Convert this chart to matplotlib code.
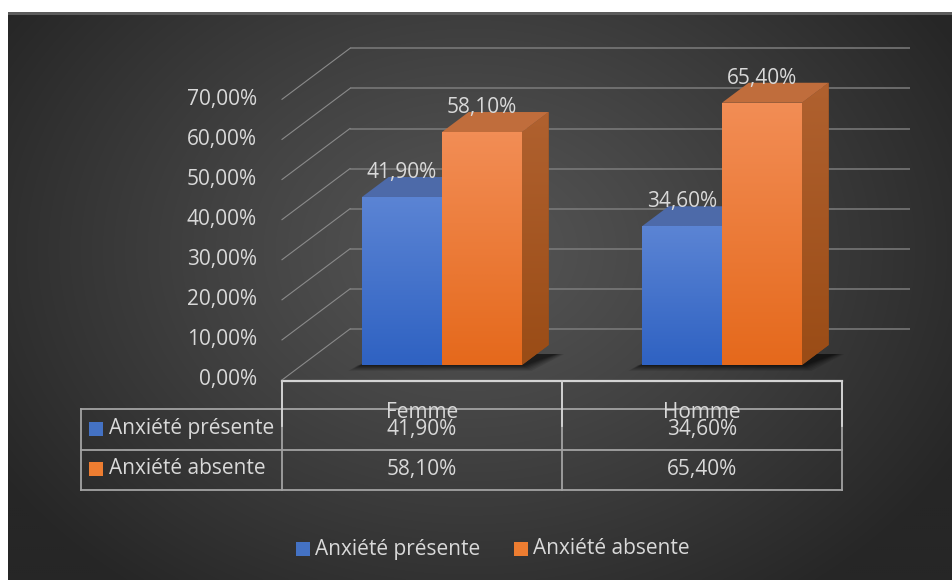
import numpy as np
import matplotlib
matplotlib.use("Agg")
import matplotlib.pyplot as plt
from matplotlib.patches import Polygon, Rectangle
from matplotlib.colors import LinearSegmentedColormap
from matplotlib.transforms import blended_transform_factory

# ---- data ----
categories = ["Femme", "Homme"]
series_names = ["Anxiété présente", "Anxiété absente"]
anxiete_presente = [41.9, 34.6]
anxiete_absente = [58.1, 65.4]
y_ticks = [0, 10, 20, 30, 40, 50, 60, 70]

series_values = [anxiete_presente, anxiete_absente]

# ---- style ----
FONT = "Open Sans"
FS = 15
TXT = "#d9d9d9"
front_top = ["#5b84d4", "#f28d55"]
front_bot = ["#2f62c2", "#e5691c"]
top_col = ["#4d6aa9", "#c06d3c"]
side_top = ["#3c5a9c", "#b0612f"]
side_bot = ["#2a4a8e", "#9a4c16"]
swatch = ["#4472c4", "#ed7d31"]

plt.rcParams["font.family"] = [FONT, "DejaVu Sans"]


def fr_pct(v):
    return f"{v:.2f}".replace(".", ",") + "%"


W, H = 952, 580
fig = plt.figure(figsize=(W / 100, H / 100), dpi=100, facecolor="white")

# background layer in pixel units
bg = fig.add_axes([0, 0, 1, 1])
bg.set_xlim(0, W)
bg.set_ylim(H, 0)
bg.axis("off")

yy, xx = np.mgrid[15:H:2, 8:W:2]
r = np.sqrt(((xx - 470) / 560.0) ** 2 + ((yy - 250) / 430.0) ** 2)
r = np.clip(r, 0, 1) ** 1.15
center_c = np.array([0x55, 0x55, 0x55]) / 255
edge_c = np.array([0x26, 0x26, 0x26]) / 255
img = center_c[None, None, :] * (1 - r[..., None]) + edge_c[None, None, :] * r[..., None]
bg.imshow(img, extent=[8, W, H, 15], aspect="auto", interpolation="bilinear", zorder=0)
bg.add_patch(Rectangle((8, 12), W - 8, 3, color="#5c5c5c", lw=0, zorder=1))
bg.set_xlim(0, W)
bg.set_ylim(H, 0)

# ---- chart axes: x in category units, y in percent (front plane) ----
PX0, PXC = 422.0, 280.0      # pixel of category 0 and pixels per category
PY0, PYU = 380.0, 4.01       # pixel of 0 % and pixels per percent
ax = fig.add_axes([0, 0, 1, 1])
ax.patch.set_alpha(0)
ax.axis("off")
XLIM = ((0 - PX0) / PXC, (W - PX0) / PXC)
YLIM = ((PY0 - H) / PYU, PY0 / PYU)

DX = 68.0 / PXC              # full depth, category units
DY = 51.0 / PYU              # full depth, percent units
d_front = 15.0 / 51.0        # depth of bar front faces
d_back = 35.0 / 51.0         # depth of bar back faces
bw = 80.0 / PXC              # bar width

x_left, x_right = -0.5, len(categories) - 0.5
line_c = "#7c7c7c"

# back wall gridlines and side wall diagonals
for t in y_ticks:
    ax.plot([x_left + DX, x_right + DX], [t + DY, t + DY], color=line_c, lw=1.1, zorder=1,
            solid_capstyle="butt")
    ax.plot([x_left, x_left + DX], [t, t + DY], color="#8a8a8a", lw=0.8, zorder=1)
    ax.text(x_left - 25.0 / PXC, t, fr_pct(t), ha="right", va="center",
            color=TXT, fontsize=FS, zorder=5)

ddx = (d_back - d_front) * DX
ddy = (d_back - d_front) * DY
base = d_front * DY

for i, cat in enumerate(categories):
    cx = i + d_front * DX
    x0g, x1g = cx - bw, cx + bw
    # soft shadow on the floor
    for k, a in zip(range(6), [0.10, 0.10, 0.12, 0.14, 0.16, 0.2]):
        g = (6 - k) * 1.6
        gx, gy = g / PXC, g / PYU
        shadow = Polygon([(x0g - gx - 4 / PXC, base - gy * 0.6),
                          (x1g + gx, base - gy * 0.6),
                          (x1g + ddx + gx + 6 / PXC, base + ddy * 0.55),
                          (x0g + ddx, base + ddy * 0.55)],
                         closed=True, color="black", alpha=a, lw=0, zorder=2)
        ax.add_patch(shadow)

    for j, vals in enumerate(series_values):
        v = vals[i]
        x0 = cx - bw + j * bw
        x1 = x0 + bw
        top = base + v
        # right side face
        side = Polygon([(x1, base), (x1, top), (x1 + ddx, top + ddy), (x1 + ddx, base + ddy)],
                       closed=True, lw=0, color=side_bot[j], zorder=3)
        ax.add_patch(side)
        sg = ax.imshow(np.linspace(0, 1, 64)[:, None], origin="lower", aspect="auto",
                       extent=[x1, x1 + ddx, base, top + ddy],
                       cmap=LinearSegmentedColormap.from_list("s", [side_bot[j], side_top[j]]),
                       zorder=3, interpolation="bilinear")
        sg.set_clip_path(side)
        # top face
        ax.add_patch(Polygon([(x0, top), (x1, top), (x1 + ddx, top + ddy), (x0 + ddx, top + ddy)],
                             closed=True, lw=0, color=top_col[j], zorder=3))
        # front face
        bars = ax.bar(x0 + bw / 2, v, bottom=base, width=bw, color=front_bot[j], lw=0, zorder=4)
        fg = ax.imshow(np.linspace(0, 1, 64)[:, None], origin="lower", aspect="auto",
                       extent=[x0, x1, base, top],
                       cmap=LinearSegmentedColormap.from_list("f", [front_bot[j], front_top[j]]),
                       zorder=4, interpolation="bilinear")
        fg.set_clip_path(bars.patches[0])
        # value label
        ax.text(x0 + bw / 2, top + 24.5 / PYU, fr_pct(v), ha="center", va="center",
                color=TXT, fontsize=FS, zorder=6)

ax.set_xlim(*XLIM)
ax.set_ylim(*YLIM)

# ---- data table below the plot ----
tr = blended_transform_factory(ax.transData, bg.transData)
tbl_c = "#a3a3a3"
y_top, y_r0, y_r1, y_r2 = 381, 409, 450, 490
x_hdr = 81
edges = [x_left + k for k in range(len(categories) + 1)]

bg.plot([PX0 + PXC * edges[0], PX0 + PXC * edges[-1]], [y_top, y_top], color="#d4d4d4", lw=1.6, zorder=3)
for yl in (y_r0, y_r1, y_r2):
    bg.plot([x_hdr, PX0 + PXC * edges[-1]], [yl, yl], color=tbl_c, lw=1.3, zorder=3)
bg.plot([x_hdr, x_hdr], [y_r0, y_r2], color=tbl_c, lw=1.3, zorder=3)
for e in edges:
    ax.plot([e, e], [y_top, y_r2], color=tbl_c, lw=1.3, transform=tr, zorder=3)
    ax.plot([e, e], [y_top, 426], color="#d4d4d4", lw=1.3, transform=tr, zorder=3)

for i, cat in enumerate(categories):
    ax.text(i, 413, cat, ha="center", va="center", color=TXT, fontsize=FS, transform=tr, zorder=6)
    for j, vals in enumerate(series_values):
        ax.text(i, 430 + 40 * j, fr_pct(vals[i]), ha="center", va="center",
                color=TXT, fontsize=FS, transform=tr, zorder=6)

for j, name in enumerate(series_names):
    yc = 428.5 + 40 * j
    bg.add_patch(Rectangle((89, yc - 7), 14, 14, color=swatch[j], lw=0, zorder=4))
    bg.text(109, yc, name, ha="left", va="center", color=TXT, fontsize=FS, zorder=6)

# ---- legend ----
leg_x = [296, 514]
for j, name in enumerate(series_names):
    bg.add_patch(Rectangle((leg_x[j], 542), 14, 14, color=swatch[j], lw=0, zorder=4))
    bg.text(leg_x[j] + 19, 549, name, ha="left", va="center", color=TXT, fontsize=FS, zorder=6)

bg.set_xlim(0, W)
bg.set_ylim(H, 0)
fig.savefig("out.png", dpi=100, facecolor="white")
